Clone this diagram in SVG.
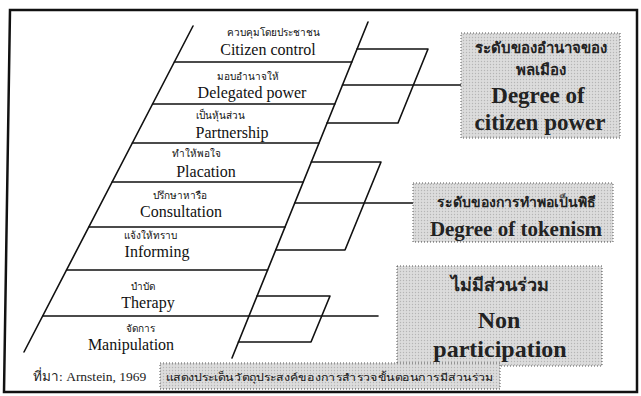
<svg xmlns="http://www.w3.org/2000/svg" width="641" height="396" viewBox="0 0 641 396">
<style>
.ln{stroke:#111;stroke-width:1.6;fill:none;stroke-linecap:round;stroke-linejoin:round}
.th{font-family:"DejaVu Sans","Noto Sans",sans-serif;font-size:10px;fill:#111;text-anchor:middle}
.en{font-family:"Liberation Serif","DejaVu Serif",serif;font-size:16px;fill:#111;text-anchor:middle}
.bx{stroke:#555;stroke-width:1;stroke-dasharray:1 2;fill:url(#dots)}
.bth{font-family:"DejaVu Sans","Noto Sans",sans-serif;fill:#222;text-anchor:middle;font-weight:bold}
.ben{font-family:"Liberation Serif","DejaVu Serif",serif;fill:#222;text-anchor:middle;font-weight:bold}
</style>
<defs>
<pattern id="dots" width="3" height="3" patternUnits="userSpaceOnUse">
<rect width="3" height="3" fill="#dcdcdc"/>
<circle cx="1.5" cy="1.5" r="0.7" fill="#b5b5b5"/>
</pattern>
</defs>
<rect width="641" height="396" fill="#fff"/>
<polygon points="10,10 637,10 637,392 4,392" fill="none" stroke="#111" stroke-width="2.5"/>

<g id="connectors" class="ln">
<line x1="193" y1="26" x2="24" y2="352"/>
<line x1="368" y1="22" x2="232" y2="358"/>
<line x1="174.4" y1="62" x2="351.8" y2="62"/>
<line x1="152.6" y1="104" x2="334.8" y2="104"/>
<line x1="132.4" y1="143" x2="319" y2="143"/>
<line x1="112.2" y1="182" x2="303" y2="182"/>
<line x1="88.9" y1="227" x2="285" y2="227"/>
<line x1="66.6" y1="270" x2="267.6" y2="270"/>
<line x1="42.8" y1="316" x2="378" y2="316"/>
<polyline points="357,49 428,49 398,123 327,123"/>
<line x1="342.5" y1="85" x2="461" y2="85"/>
<polyline points="311.3,162 381,162 345,250 275.7,250"/>
<line x1="294.7" y1="203" x2="413" y2="203"/>
<polyline points="257,296 330,296 311,342 238.4,342"/>
</g>

<g id="rung-citizen-control"><text class="th" x="273" y="36">ควบคุมโดยประชาชน</text><text class="en" x="268" y="55">Citizen control</text></g>
<g id="rung-delegated-power"><text class="th" x="248" y="80">มอบอำนาจให้</text><text class="en" x="252" y="98">Delegated power</text></g>
<g id="rung-partnership"><text class="th" x="220" y="119">เป็นหุ้นส่วน</text><text class="en" x="232" y="138">Partnership</text></g>
<g id="rung-placation"><text class="th" x="196" y="157">ทำให้พอใจ</text><text class="en" x="206" y="177">Placation</text></g>
<g id="rung-consultation"><text class="th" x="180" y="199">ปรึกษาหารือ</text><text class="en" x="181" y="217">Consultation</text></g>
<g id="rung-informing"><text class="th" x="150" y="239">แจ้งให้ทราบ</text><text class="en" x="157" y="257">Informing</text></g>
<g id="rung-therapy"><text class="th" x="143" y="290">บำบัด</text><text class="en" x="148" y="308">Therapy</text></g>
<g id="rung-manipulation"><text class="th" x="140" y="332">จัดการ</text><text class="en" x="131" y="350">Manipulation</text></g>

<g id="box-citizen-power">
<rect class="bx" x="461" y="33" width="159" height="105"/>
<text class="bth" x="541" y="53" font-size="15">ระดับของอำนาจของ</text>
<text class="bth" x="541" y="75" font-size="15">พลเมือง</text>
<text class="ben" x="538" y="103" font-size="23">Degree of</text>
<text class="ben" x="540" y="130" font-size="23">citizen power</text>
</g>
<g id="box-tokenism">
<rect class="bx" x="413" y="183" width="200" height="59"/>
<text class="bth" x="516" y="207" font-size="14">ระดับของการทำพอเป็นพิธี</text>
<text class="ben" x="516" y="236" font-size="21">Degree of tokenism</text>
</g>
<g id="box-non-participation">
<rect class="bx" x="397" y="266" width="205" height="100"/>
<text class="bth" x="500" y="291" font-size="18">ไม่มีส่วนร่วม</text>
<text class="ben" x="499" y="328" font-size="24">Non</text>
<text class="ben" x="500" y="357" font-size="24">participation</text>
</g>
<g id="caption">
<rect class="bx" x="160" y="363" width="340" height="26"/>
<text class="th" x="330" y="381" font-size="12" textLength="328" lengthAdjust="spacingAndGlyphs">แสดงประเด็นวัตถุประสงค์ของการสำรวจขั้นตอนการมีส่วนร่วม</text>
</g>
<g id="source">
<text x="33" y="381" font-family="Liberation Serif, DejaVu Sans, serif" font-size="13.5" fill="#222">ที่มา: Arnstein, 1969</text>
</g>
</svg>
